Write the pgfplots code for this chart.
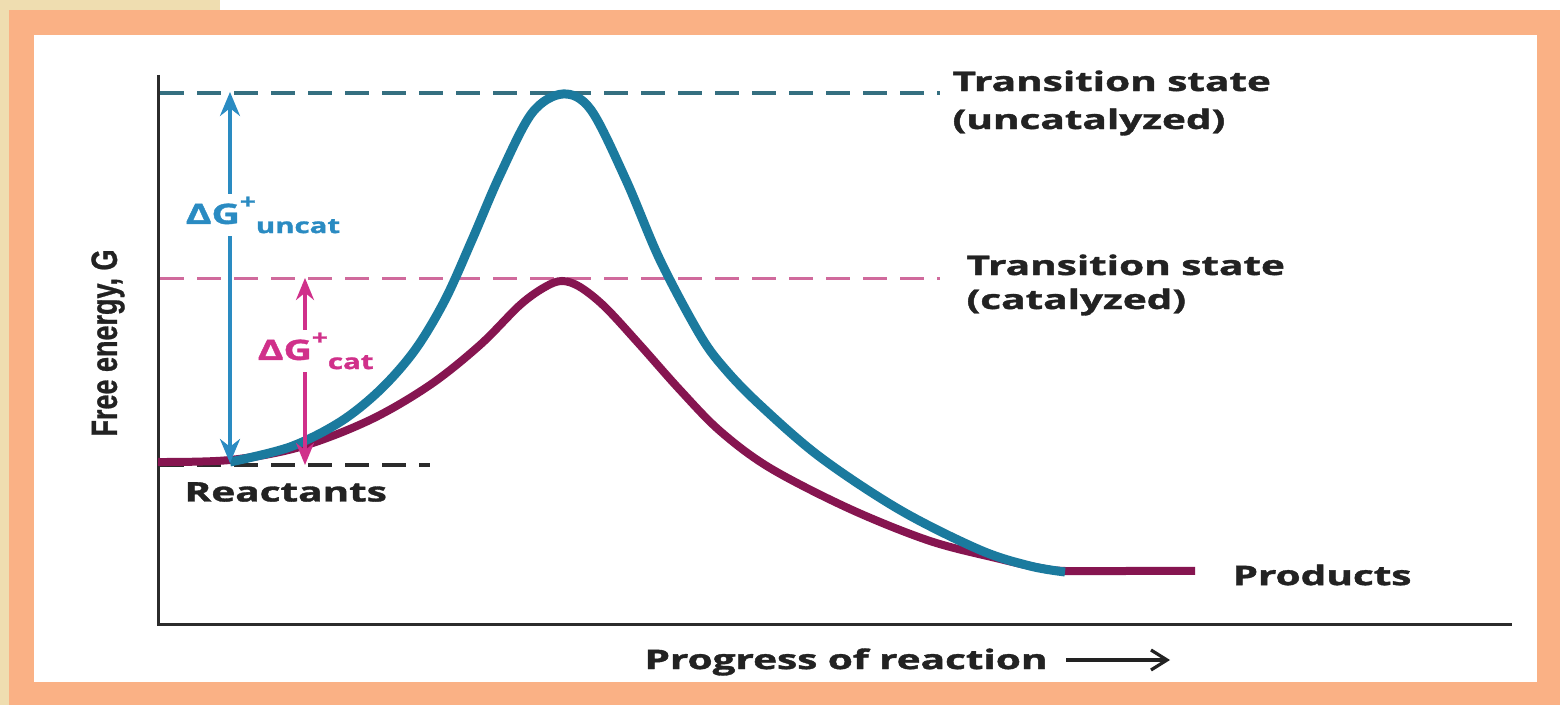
\documentclass[border=0pt]{standalone}
\usepackage{pgfplots}
\pgfplotsset{compat=1.18}
\usepackage{fontspec}
\setmainfont{Open Sans}[BoldFeatures={FakeBold=1.2}]
\newfontfamily\narrowfont{Liberation Sans}[BoldFeatures={FakeBold=1.0}]
\usetikzlibrary{arrows.meta}
\definecolor{framecol}{HTML}{FAB185}
\definecolor{tancol}{HTML}{EFDDB0}
\definecolor{bluecurve}{HTML}{1B7A9E}
\definecolor{bluedash}{HTML}{356F80}
\definecolor{bluelab}{HTML}{2A8BC2}
\definecolor{magcurve}{HTML}{861550}
\definecolor{magdash}{HTML}{D06A9C}
\definecolor{maglab}{HTML}{D0308A}
\definecolor{axiscol}{HTML}{2B2B2B}
\definecolor{txt}{HTML}{222222}
\begin{document}
\begin{tikzpicture}
\begin{axis}[width=783.5pt,height=352.5pt,scale only axis,
  xmin=0,xmax=1567,ymin=0,ymax=705,axis lines=none,clip=false]
% frame
\fill[white] (axis cs:0,0) rectangle (axis cs:1567,705);
\fill[tancol] (axis cs:0,0) rectangle (axis cs:9,705);
\fill[tancol] (axis cs:0,695) rectangle (axis cs:220,705);
\fill[framecol] (axis cs:9,0) rectangle (axis cs:1560,695);
\fill[white] (axis cs:34,23) rectangle (axis cs:1537,670);
% axes
\addplot[axiscol, line width=1.5pt, mark=none] coordinates {(158,630) (158,80) (1512,80)};
% dashed levels
\addplot[bluedash, line width=1.8pt, dash pattern=on 12pt off 6.5pt, mark=none] coordinates {(160,612) (940,612)};
\addplot[magdash, line width=1.5pt, dash pattern=on 12pt off 6.5pt, mark=none] coordinates {(160,426) (940,426)};
\addplot[axiscol, line width=1.7pt, dash pattern=on 12pt off 6.5pt, mark=none] coordinates {(160,240) (430,240)};
% curves
\addplot[magcurve, line width=4pt, smooth, tension=0.55, mark=none] coordinates {
(158,243) (230,245) (300,258) (370,285) (430,320) (480,360) (520,400) (545,418) (562,424)
(580,418) (605,398) (640,360) (680,315) (720,274) (770,237) (850,196) (930,164)
(1000,146) (1040,137) (1065,134) (1130,134) (1195,134)};
\addplot[bluecurve, line width=4.5pt, smooth, tension=0.55, mark=none] coordinates {
(230,243) (290,258) (340,283) (380,315) (415,355) (445,405) (472,465) (500,530) (532,592) (563,611)
(591,595) (626,525) (660,445) (700,370) (725,336) (760,300) (820,248) (900,195) (980,155)
(1030,139) (1065,133)};
% arrows
\addplot[bluelab, line width=1.8pt, -{Stealth[length=12pt,width=10pt]}, mark=none] coordinates {(230,430) (230,613)};
\addplot[bluelab, line width=1.8pt, -{Stealth[length=12pt,width=10pt]}, mark=none] coordinates {(230,480) (230,242)};
\addplot[maglab, line width=1.6pt, -{Stealth[length=11pt,width=9pt]}, mark=none] coordinates {(305,340) (305,427)};
\addplot[maglab, line width=1.6pt, -{Stealth[length=11pt,width=9pt]}, mark=none] coordinates {(305,370) (305,240)};
\node[fill=white, inner sep=1.5pt, anchor=west, text=bluelab, xscale=1.4] at (axis cs:181,490)
  {\bfseries\fontsize{14pt}{16pt}\selectfont ΔG\raisebox{1.0ex}{\fontsize{10pt}{11pt}\selectfont +}\raisebox{-0.6ex}{\fontsize{10.5pt}{12pt}\selectfont uncat}};
\node[fill=white, inner sep=1.5pt, anchor=west, text=maglab, xscale=1.4] at (axis cs:253,354)
  {\bfseries\fontsize{14pt}{16pt}\selectfont ΔG\raisebox{1.0ex}{\fontsize{10pt}{11pt}\selectfont +}\raisebox{-0.6ex}{\fontsize{10.5pt}{12pt}\selectfont cat}};
% text labels
\node[anchor=west, align=left, text=txt, xscale=1.5, font=\bfseries\fontsize{13.5pt}{19pt}\selectfont] at (axis cs:942,602)
  {Transition state\\(uncatalyzed)};
\node[anchor=west, align=left, text=txt, xscale=1.5, font=\bfseries\fontsize{13.5pt}{17pt}\selectfont] at (axis cs:956,420)
  {Transition state\\(catalyzed)};
\node[anchor=west, text=txt, xscale=1.5, font=\bfseries\fontsize{13.5pt}{16pt}\selectfont] at (axis cs:174,213) {Reactants};
\node[anchor=west, text=txt, xscale=1.5, font=\bfseries\fontsize{13.5pt}{16pt}\selectfont] at (axis cs:1222,130) {Products};
\node[anchor=west, text=txt, xscale=1.5, font=\bfseries\fontsize{13.5pt}{16pt}\selectfont] at (axis cs:634,43) {Progress of reaction};
\addplot[txt, line width=1.6pt, -{Straight Barb[length=8pt,width=10pt]}, mark=none] coordinates {(1066,45) (1170,45)};
\node[rotate=90, text=txt, yscale=1.35, font=\narrowfont\bfseries\fontsize{13.5pt}{15pt}\selectfont] at (axis cs:108,362) {Free energy, G};
\end{axis}
\end{tikzpicture}
\end{document}
